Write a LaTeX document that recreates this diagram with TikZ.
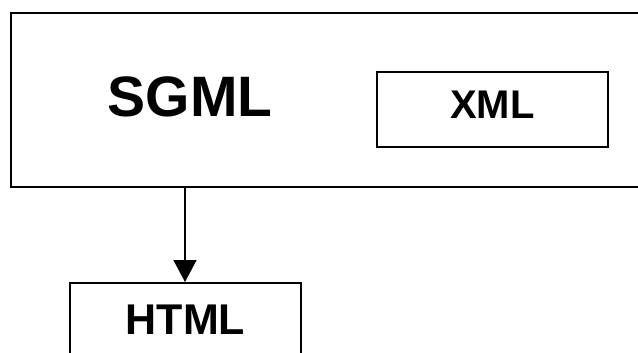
\documentclass[tikz,border=0pt]{standalone}
\usepackage{fontspec}
\setmainfont{Liberation Sans}
\usetikzlibrary{arrows.meta}
\begin{document}
\begin{tikzpicture}[x=1pt,y=1pt,
  box/.style={draw=black, line width=2pt, fill=white, inner sep=0pt},
  lbl/.style={font=\bfseries, inner sep=0pt},
  conn/.style={draw=black, line width=1.5pt, -{Triangle[length=22pt,width=23pt]}}]
\clip (0,0) rectangle (638,-353);
\fill[white] (0,0) rectangle (638,-353);
\node[box, minimum width=649pt, minimum height=174pt] (outer) at (335.5,-100) {};
\node[lbl, font=\fontsize{57}{62}\selectfont\bfseries] (sgml) at (190,-97) {SGML};
\node[box, minimum width=231pt, minimum height=75pt] (xmlbox) at (492.5,-109.5) {};
\node[lbl, font=\fontsize{40}{44}\selectfont\bfseries] (xml) at (492.5,-105) {XML};
\node[box, minimum width=231pt, minimum height=78pt] (html) at (185,-322) {};
\node[lbl, font=\fontsize{43}{48}\selectfont\bfseries] (htmltxt) at (185.5,-320) {HTML};
\draw[conn] (outer.south -| html.north) -- (html.north);
\end{tikzpicture}
\end{document}
